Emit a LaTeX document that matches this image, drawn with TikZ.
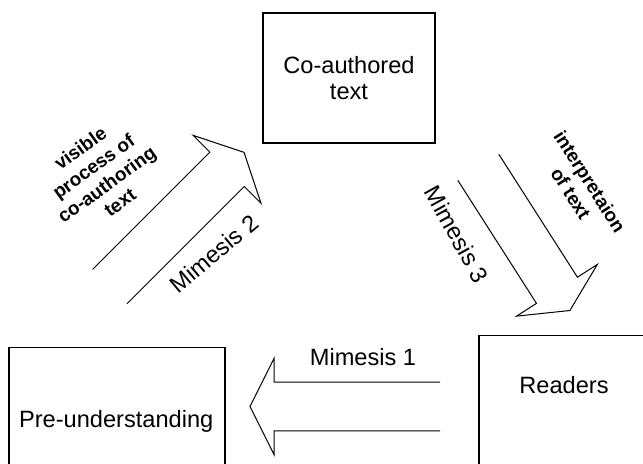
\documentclass[tikz,border=0pt]{standalone}
\usepackage{fontspec}
\setmainfont{Liberation Sans}

% block arrow with an open tail: tail point, angle, shaft length
\newcommand{\blockarrow}[3]{%
  \draw[arrowline,shift={(#1)},rotate=#2]
    (0,24.3) -- (#3,24.3) -- (#3,48) -- ({#3+24},0)
    -- (#3,-48) -- (#3,-24.3) -- (0,-24.3);
}

\tikzset{
  box/.style={draw,line width=0.75pt,inner sep=0pt},
  arrowline/.style={draw,line width=0.5pt,line join=miter},
  lbl/.style={font=\fontsize{11.8}{13.3}\selectfont,align=center,inner sep=0pt},
  note/.style={font=\fontsize{9.5}{11.2}\selectfont\bfseries,align=center,inner sep=0pt}
}

\begin{document}
\begin{tikzpicture}[x=0.5pt,y=0.5pt]
  \clip (0,0) rectangle (643,464);

  % boxes
  \node[box,minimum width=86pt,minimum height=65pt] (coauth) at (349,386) {};
  \node[box,anchor=north west,minimum width=107.9pt,minimum height=80pt] (preund) at (8.3,117.3) {};
  \node[box,anchor=north west,minimum width=86pt,minimum height=80pt] (readers) at (478.3,129) {};

  \node[lbl] (coauthtext) at (coauth.center) {Co-authored\\text};
  \node[lbl] (preundtext) at (116.2,42.3) {Pre-understanding};
  \node[lbl] (readerstext) at (564,79) {Readers};

  % arrows
  \coordinate (mone) at (440,57.5);
  \coordinate (mtwo) at (109.7,177.3);
  \coordinate (mthree) at (478.3,296.7);

  \blockarrow{mone}{180}{166}
  \blockarrow{mtwo}{45}{166}
  \blockarrow{mthree}{-57.4}{146}

  % labels
  \node[lbl] (monelbl) at (363,107) {Mimesis 1};
  \node[lbl,rotate=40] (mtwolbl) at (214,210) {Mimesis 2};
  \node[lbl,rotate=-61] (mthreelbl) at (457,229.7) {Mimesis 3};

  \node[note,rotate=36] (visible) at (100,288.7) {visible\\process of\\co-authoring\\text};
  \node[note,rotate=-57.5] (interp) at (580.4,276.5) {interpretaion\\of text};

\end{tikzpicture}
\end{document}
